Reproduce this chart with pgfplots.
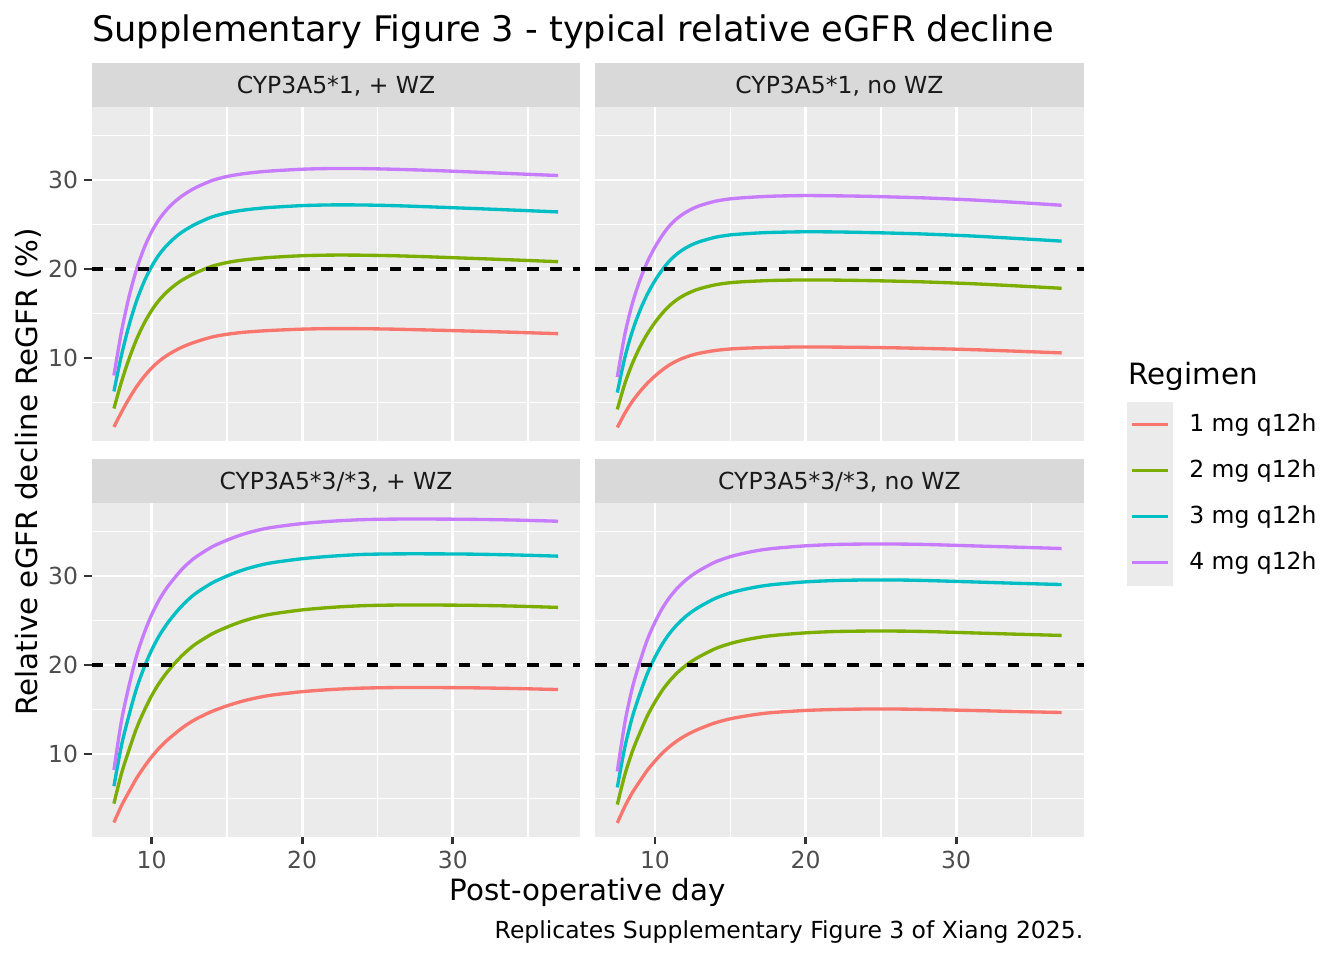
\documentclass[border=0pt]{standalone}
\usepackage{fontspec}
\setmainfont{DejaVu Sans}
\usepackage{pgfplots}
\usepackage{pgfplotstable}
\pgfplotsset{compat=1.18}

\definecolor{c1}{HTML}{F8766D}
\definecolor{c2}{HTML}{7CAE00}
\definecolor{c3}{HTML}{00BFC4}
\definecolor{c4}{HTML}{C77CFF}
\definecolor{panelbg}{HTML}{EBEBEB}
\definecolor{stripbg}{HTML}{D9D9D9}
\definecolor{tickc}{HTML}{333333}
\definecolor{ticklab}{HTML}{4D4D4D}
\definecolor{striptext}{HTML}{1A1A1A}

% CYP3A5*1, + WZ
\pgfplotstableread{
t d1 d2 d3 d4
7.5 2.25 4.32 6.24 8.03
8 3.90 7.31 10.30 12.95
8.5 5.42 9.89 13.65 16.86
9 6.76 12.08 16.39 19.94
9.5 7.90 13.88 18.56 22.33
10 8.86 15.33 20.27 24.17
10.5 9.64 16.49 21.61 25.58
11 10.26 17.39 22.63 26.65
11.5 10.77 18.12 23.45 27.50
12 11.20 18.72 24.12 28.18
12.5 11.55 19.20 24.65 28.73
13 11.85 19.62 25.11 29.20
14 12.35 20.30 25.84 29.93
15 12.66 20.72 26.30 30.39
16 12.87 20.99 26.59 30.68
17 13.00 21.17 26.79 30.88
18 13.10 21.31 26.93 31.02
20 13.24 21.49 27.12 31.21
22 13.30 21.56 27.20 31.29
24 13.29 21.55 27.19 31.28
26 13.24 21.49 27.12 31.21
28 13.16 21.39 27.01 31.11
31 13.03 21.21 26.82 30.92
34 12.89 21.02 26.62 30.71
37 12.73 20.82 26.41 30.50
}\tabTL

% CYP3A5*1, no WZ
\pgfplotstableread{
t d1 d2 d3 d4
7.5 2.19 4.22 6.11 7.86
8 3.79 7.11 10.04 12.65
8.5 5.12 9.39 13.01 16.12
9 6.22 11.22 15.32 18.74
9.5 7.17 12.73 17.18 20.81
10 7.97 13.99 18.69 22.46
10.5 8.67 15.05 19.94 23.81
11 9.26 15.93 20.97 24.91
11.5 9.72 16.60 21.74 25.72
12 10.07 17.11 22.32 26.32
12.5 10.34 17.50 22.76 26.78
13 10.55 17.80 23.09 27.13
14 10.84 18.22 23.56 27.61
15 11.01 18.46 23.83 27.88
16 11.10 18.58 23.96 28.02
17 11.16 18.66 24.06 28.12
18 11.20 18.72 24.12 28.19
20 11.24 18.77 24.18 28.25
22 11.22 18.75 24.16 28.22
24 11.19 18.70 24.10 28.17
26 11.14 18.63 24.02 28.08
28 11.07 18.54 23.92 27.98
31 10.94 18.35 23.71 27.76
34 10.76 18.10 23.43 27.48
37 10.57 17.83 23.13 27.16
}\tabTR

% CYP3A5*3/*3, + WZ
\pgfplotstableread{
t d1 d2 d3 d4
7.5 2.30 4.42 6.38 8.20
8 4.18 7.79 10.94 13.71
8.5 5.75 10.44 14.34 17.65
9 7.26 12.88 17.35 21.01
9.5 8.53 14.83 19.69 23.54
10 9.67 16.53 21.66 25.63
10.5 10.65 17.95 23.26 27.30
11 11.49 19.12 24.56 28.64
11.5 12.21 20.12 25.65 29.73
12 12.89 21.02 26.63 30.72
12.5 13.47 21.79 27.44 31.53
13 13.97 22.44 28.13 32.20
14 14.78 23.48 29.20 33.26
15 15.40 24.25 29.99 34.02
16 15.92 24.89 30.64 34.65
17 16.32 25.38 31.13 35.12
18 16.62 25.73 31.49 35.46
20 17.00 26.19 31.94 35.89
22 17.25 26.48 32.23 36.16
24 17.40 26.66 32.42 36.33
26 17.46 26.73 32.48 36.39
28 17.47 26.74 32.49 36.40
31 17.44 26.71 32.46 36.37
34 17.36 26.62 32.37 36.29
37 17.24 26.47 32.23 36.15
}\tabBL

% CYP3A5*3/*3, no WZ
\pgfplotstableread{
t d1 d2 d3 d4
7.5 2.25 4.32 6.24 8.03
8 4.10 7.66 10.76 13.50
8.5 5.66 10.29 14.16 17.44
9 6.95 12.38 16.76 20.35
9.5 8.18 14.30 19.06 22.87
10 9.20 15.84 20.87 24.80
10.5 10.11 17.18 22.39 26.40
11 10.87 18.26 23.61 27.66
11.5 11.51 19.15 24.59 28.66
12 12.04 19.88 25.39 29.47
12.5 12.48 20.48 26.04 30.13
13 12.86 20.98 26.58 30.67
14 13.50 21.83 27.48 31.57
15 13.95 22.41 28.10 32.17
16 14.26 22.82 28.52 32.59
17 14.51 23.13 28.84 32.91
18 14.68 23.34 29.06 33.12
20 14.89 23.61 29.34 33.39
22 15.00 23.76 29.49 33.54
24 15.05 23.81 29.55 33.59
26 15.05 23.81 29.55 33.59
28 15.00 23.76 29.49 33.54
31 14.89 23.61 29.34 33.39
34 14.77 23.46 29.18 33.24
37 14.66 23.32 29.04 33.09
}\tabBR

\pgfplotsset{
  panel/.style={
    scale only axis, width=183.26pt, height=125.25pt,
    anchor=south west,
    xmin=6.025, xmax=38.475, ymin=0.67, ymax=38.2,
    axis background/.style={fill=panelbg},
    axis line style={draw=none},
    xtick={10,20,30}, ytick={10,20,30},
    minor xtick={15,25,35}, minor ytick={5,15,25,35},
    xmajorgrids, ymajorgrids, xminorgrids, yminorgrids,
    major grid style={white, line width=1.07pt},
    minor grid style={white, line width=0.53pt},
    tick align=outside, major tick length=2.75pt, minor tick length=0pt,
    tick style={color=tickc, line width=1.07pt},
    xtick pos=bottom, ytick pos=left,
    ticklabel style={font=\fontsize{8.8}{10}\selectfont, text=ticklab},
    yticklabel style={inner sep=0pt, xshift=-2.2pt},
    xticklabel style={inner sep=0pt, yshift=-2.2pt},
    /pgf/number format/assume math mode=true,
  },
  curve/.style={line width=1.25pt, smooth},
  thr/.style={black, line width=1.25pt, dash pattern=on 4.3pt off 4.3pt},
}

\newcommand{\curves}[1]{%
  \addplot[c1, curve] table[x=t, y=d1] {#1};
  \addplot[c2, curve] table[x=t, y=d2] {#1};
  \addplot[c3, curve] table[x=t, y=d3] {#1};
  \addplot[c4, curve] table[x=t, y=d4] {#1};
  \addplot[thr] coordinates {(6.025,20) (38.475,20)};
}

\newcommand{\strip}[2]{%
  \fill[stripbg] (#1.north west) rectangle ([yshift=16.69pt]#1.north east);
  \node[anchor=base, inner sep=0pt, font=\fontsize{8.8}{10}\selectfont, text=striptext]
    at ([yshift=5.15pt]#1.north) {#2};
}

\begin{document}
\begin{tikzpicture}
\useasboundingbox (0,0) rectangle (504pt,360pt);

\begin{axis}[panel, name=TL, at={(34.39pt,194.625pt)}, xmajorticks=false]
\curves{\tabTL}
\end{axis}
\strip{TL}{CYP3A5*1, + WZ}

\begin{axis}[panel, name=TR, at={(223.16pt,194.625pt)}, xmajorticks=false, ymajorticks=false]
\curves{\tabTR}
\end{axis}
\strip{TR}{CYP3A5*1, no WZ}

\begin{axis}[panel, name=BL, at={(34.39pt,46.125pt)}]
\curves{\tabBL}
\end{axis}
\strip{BL}{CYP3A5*3/*3, + WZ}

\begin{axis}[panel, name=BR, at={(223.16pt,46.125pt)}, ymajorticks=false]
\curves{\tabBR}
\end{axis}
\strip{BR}{CYP3A5*3/*3, no WZ}

% title, axis titles, caption
\node[anchor=base west, inner sep=0pt, font=\fontsize{13.2}{15}\selectfont]
  at (34.39pt,344.6pt) {Supplementary Figure 3 - typical relative eGFR decline};
\node[rotate=90, inner sep=0pt, font=\fontsize{11}{13}\selectfont]
  at (10.7pt,183pt) {Relative eGFR decline ReGFR (\%)};
\node[inner sep=0pt, font=\fontsize{11}{13}\selectfont]
  at (220.4pt,25.2pt) {Post-operative day};
\node[anchor=east, inner sep=0pt, font=\fontsize{8.8}{10}\selectfont]
  at (406.4pt,10.5pt) {Replicates Supplementary Figure 3 of Xiang 2025.};

% legend
\node[anchor=base west, inner sep=0pt, font=\fontsize{11}{13}\selectfont]
  at (423.1pt,216pt) {Regimen};
\fill[panelbg] (422.5pt,140.4pt) rectangle (439.8pt,209.4pt);
\draw[c1, line width=1.25pt] (424.4pt,200.78pt) -- (438.1pt,200.78pt);
\draw[c2, line width=1.25pt] (424.4pt,183.53pt) -- (438.1pt,183.53pt);
\draw[c3, line width=1.25pt] (424.4pt,166.28pt) -- (438.1pt,166.28pt);
\draw[c4, line width=1.25pt] (424.4pt,149.03pt) -- (438.1pt,149.03pt);
\node[anchor=west, inner sep=0pt, font=\fontsize{8.8}{10}\selectfont] at (445.8pt,200.78pt) {1 mg q12h};
\node[anchor=west, inner sep=0pt, font=\fontsize{8.8}{10}\selectfont] at (445.8pt,183.53pt) {2 mg q12h};
\node[anchor=west, inner sep=0pt, font=\fontsize{8.8}{10}\selectfont] at (445.8pt,166.28pt) {3 mg q12h};
\node[anchor=west, inner sep=0pt, font=\fontsize{8.8}{10}\selectfont] at (445.8pt,149.03pt) {4 mg q12h};
\end{tikzpicture}
\end{document}
